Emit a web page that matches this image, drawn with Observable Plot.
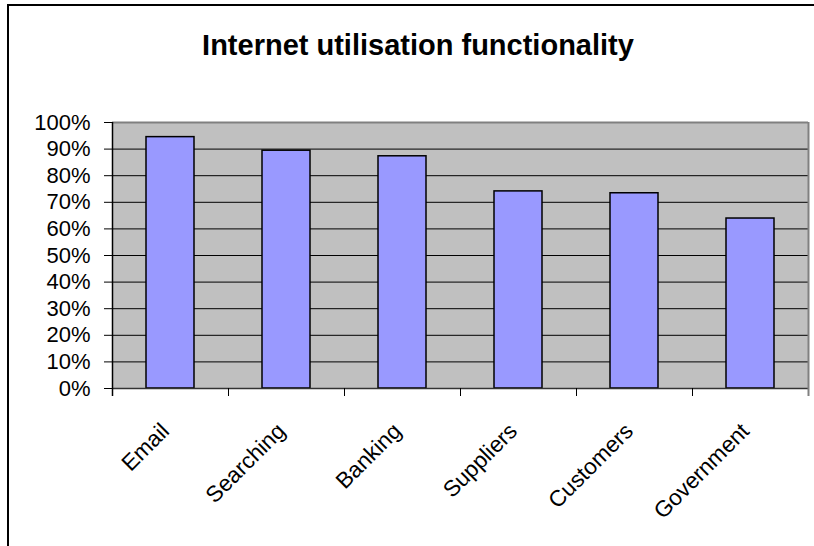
<!DOCTYPE html>
<html>
<head>
<meta charset="utf-8">
<script src="https://cdn.jsdelivr.net/npm/d3@7"></script>
<script src="https://cdn.jsdelivr.net/npm/@observablehq/plot@0.6"></script>
<style>
  html, body { margin: 0; padding: 0; background: #fff; overflow: hidden; width: 814px; height: 546px; }
  #wrap { position: relative; width: 814px; height: 546px; }
  #border { position: absolute; left: 7px; top: 4px; width: 1000px; height: 1000px;
            border-left: 2px solid #000; border-top: 2px solid #000; pointer-events: none; }
  #title { height: 80px; box-sizing: border-box; padding-top: 31px; width: 836px; text-align: center;
           font-family: "Liberation Sans", Arial, sans-serif; font-weight: bold; font-size: 29px; line-height: 29px; color: #000; }
  #chart svg { display: block; }
</style>
</head>
<body>
<div id="wrap">
  <div id="title">Internet utilisation functionality</div>
  <div id="chart"></div>
  <div id="border"></div>
</div>
<script>
const categories = ["Email", "Searching", "Banking", "Suppliers", "Customers", "Government"];
const values = [0.945, 0.894, 0.873, 0.741, 0.734, 0.639];
const yTicks = [0, 0.1, 0.2, 0.3, 0.4, 0.5, 0.6, 0.7, 0.8, 0.9, 1];
const gridTicks = [0.1, 0.2, 0.3, 0.4, 0.5, 0.6, 0.7, 0.8, 0.9];

const data = categories.map((c, i) => ({category: c, value: values[i]}));

const chart = Plot.plot({
  width: 814,
  height: 466,
  marginLeft: 112,
  marginRight: 6,
  marginTop: 42,
  marginBottom: 158,
  style: {background: "transparent", fontFamily: "'Liberation Sans', Arial, sans-serif", color: "#000", overflow: "visible"},
  x: {domain: categories, padding: 0, axis: null},
  y: {domain: [0, 1], axis: null},
  marks: [
    Plot.frame({fill: "#C0C0C0", stroke: null}),
    Plot.ruleY(gridTicks, {stroke: "#000", strokeWidth: 1}),
    Plot.ruleY([1], {stroke: "#808080", strokeWidth: 2}),
    Plot.barY(data, {x: "category", y: "value", fill: "#9999FF", stroke: "#000", strokeWidth: 1.5, insetLeft: 34, insetRight: 34}),
    Plot.ruleY([0], {stroke: "#333", strokeWidth: 1.5}),
    // right border of plot area (gray) with last category tick
    Plot.ruleX([categories[categories.length - 1]], {x: d => d, y1: 1, y2: 0, dx: 58, insetBottom: -8, stroke: "#808080", strokeWidth: 2}),
    // left axis line with first tick
    Plot.ruleX([categories[0]], {x: d => d, y1: 1, y2: 0, dx: -58, insetBottom: -8, stroke: "#000", strokeWidth: 1.5}),
    // category boundary ticks
    Plot.ruleX(categories.slice(1), {x: d => d, y1: 0, y2: 0, dx: -58, insetBottom: -8, stroke: "#000", strokeWidth: 1}),
    Plot.axisY({ticks: yTicks, tickFormat: d3.format(".0%"), tickSize: 8, tickPadding: 14, fontSize: 22, label: null, stroke: "#000", strokeOpacity: 1}),
    Plot.text(categories, {x: d => d, frameAnchor: "bottom", rotate: -45, textAnchor: "end", lineAnchor: "bottom", dy: 44, fontSize: 22.5, fill: "#000"})
  ]
});
document.getElementById("chart").appendChild(chart);
</script>
</body>
</html>
